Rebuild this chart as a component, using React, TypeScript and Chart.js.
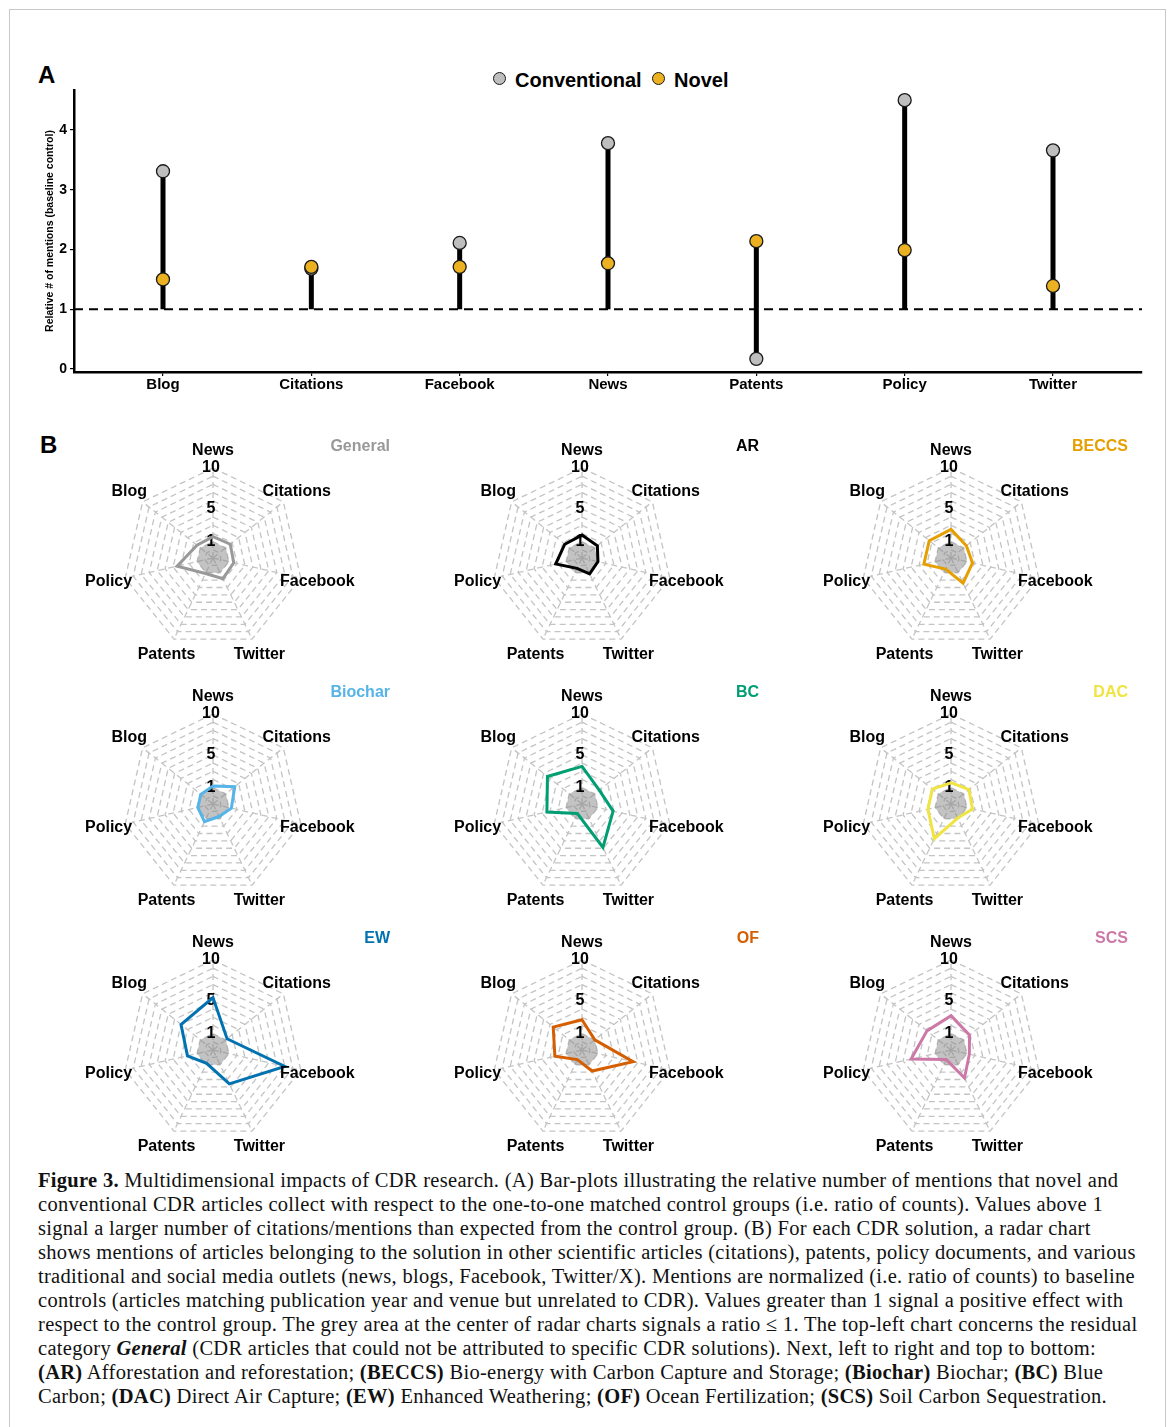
import React, { useEffect, useRef } from 'react';
import { Chart, registerables } from 'chart.js';

Chart.register(...registerables);

const FONT = '"Liberation Sans", Arial, Helvetica, sans-serif';

// ---------- Panel A data ----------
const channels = ['Blog', 'Citations', 'Facebook', 'News', 'Patents', 'Policy', 'Twitter'];
const conventional = [3.31, 1.68, 2.11, 3.78, 0.17, 4.5, 3.66];
const novel = [1.5, 1.71, 1.71, 1.77, 2.14, 1.99, 1.39];
const yTicks = [0, 1, 2, 3, 4];
const baselineValue = 1;

// ---------- Panel B data ----------
const radarAxes = ['News', 'Citations', 'Facebook', 'Twitter', 'Patents', 'Policy', 'Blog'];
const radarTickLabels = [1, 5, 10];
const centerRatio = [1, 1, 1, 1, 1, 1, 1];
const general = [1.6, 1.7, 1.6, 1.8, 1.1, 3.5, 1.5];
const ar = [1.8, 1.4, 1.0, 1.15, 0.4, 2.3, 1.7];
const beccs = [2.5, 1.4, 1.7, 2.4, 0.5, 2.4, 2.4];
const biochar = [1.2, 2.4, 1.3, 0.7, 1.4, 0.9, 0.9];
const bc = [3.6, 1.7, 2.9, 4.9, 0.3, 3.4, 4.4];
const dac = [1.6, 1.8, 1.7, 0.9, 3.7, 1.9, 1.9];
const ew = [5.4, 1.2, 8.0, 3.6, 0.8, 2.2, 4.0];
const of = [2.7, 1.0, 5.4, 1.85, 0.3, 2.4, 3.5];
const scs = [3.2, 1.9, 1.3, 2.8, 0.3, 4.0, 2.75];
const solutions = ['General', 'AR', 'BECCS', 'Biochar', 'BC', 'DAC', 'EW', 'OF', 'SCS'];
const solutionValues = [general, ar, beccs, biochar, bc, dac, ew, of, scs];
const solutionColors = ['#999999', '#000000', '#E69F00', '#56B4E9', '#009E73', '#F0E442', '#0072B2', '#D55E00', '#CC79A7'];

const X_MIN = -0.6;
const X_MAX = 6.6;

function LollipopChart() {
  const ref = useRef<HTMLCanvasElement>(null);
  useEffect(() => {
    const stems = channels.map((_, i) => {
      const vals = [baselineValue, conventional[i], novel[i]];
      return {
        label: 'stem' + i,
        data: [
          { x: i, y: Math.min(...vals) },
          { x: i, y: Math.max(...vals) },
        ],
        borderColor: '#000',
        borderWidth: 5,
        pointRadius: 0,
        borderCapStyle: 'butt',
        showLine: true,
      };
    });
    const chart = new Chart(ref.current as HTMLCanvasElement, {
      type: 'line',
      data: {
        datasets: [
          {
            label: 'Novel',
            data: novel.map((y, i) => ({ x: i, y })),
            showLine: false,
            pointRadius: 6.5,
            pointBackgroundColor: '#EBB120',
            pointBorderColor: '#1a1a1a',
            pointBorderWidth: 1.3,
          },
          {
            label: 'Conventional',
            data: conventional.map((y, i) => ({ x: i, y })),
            showLine: false,
            pointRadius: 6.5,
            pointBackgroundColor: '#BEBEBE',
            pointBorderColor: '#1a1a1a',
            pointBorderWidth: 1.3,
          },
          ...stems,
          {
            label: 'baseline',
            data: [
              { x: X_MIN, y: baselineValue },
              { x: X_MAX, y: baselineValue },
            ],
            borderColor: '#000',
            borderWidth: 2,
            borderDash: [9, 6],
            pointRadius: 0,
          },
        ] as any,
      },
      options: {
        animation: false,
        responsive: false,
        devicePixelRatio: 1,
        clip: false as any,
        layout: { padding: { left: 0, right: 18, top: 30, bottom: 0 } },
        plugins: { legend: { display: false }, tooltip: { enabled: false } },
        scales: {
          x: {
            type: 'linear',
            min: X_MIN,
            max: X_MAX,
            afterBuildTicks: (a: any) => {
              a.ticks = channels.map((_, i) => ({ value: i }));
            },
            afterFit: (a: any) => {
              a.height = 28;
            },
            ticks: {
              autoSkip: false,
              maxRotation: 0,
              padding: 0,
              color: '#000',
              font: { family: FONT, size: 15, weight: 'bold' },
              callback: (v: any) => channels[Math.round(v)] ?? '',
            },
            grid: { drawOnChartArea: false, drawTicks: true, tickLength: 4, color: '#000', lineWidth: 1.2 },
            border: { display: true, color: '#000', width: 2.5 },
          },
          y: {
            type: 'linear',
            min: -0.05,
            max: 4.67,
            afterBuildTicks: (a: any) => {
              a.ticks = yTicks.map((v) => ({ value: v }));
            },
            afterFit: (a: any) => {
              a.width = 54;
            },
            ticks: { padding: 3, color: '#000', font: { family: FONT, size: 14, weight: 'bold' } },
            grid: { drawOnChartArea: false, drawTicks: true, tickLength: 4, color: '#000', lineWidth: 1.2 },
            border: { display: true, color: '#000', width: 2.5 },
            title: {
              display: true,
              text: 'Relative # of mentions (baseline control)',
              color: '#000',
              font: { family: FONT, size: 10.5, weight: 'bold' },
              padding: { top: 24, bottom: 0 },
            },
          },
        },
      } as any,
    });
    return () => chart.destroy();
  }, []);
  return (
    <canvas
      ref={ref}
      width={1140}
      height={340}
      style={{ position: 'absolute', left: 20, top: 60, width: 1140, height: 340 }}
    />
  );
}

const RADAR_W = 369;
const RADAR_H = 240;
const colCenters = [213, 582, 951];
const rowCenters = [558, 804, 1050];

function RadarPanel({ idx }: { idx: number }) {
  const ref = useRef<HTMLCanvasElement>(null);
  useEffect(() => {
    const values = solutionValues[idx];
    const color = solutionColors[idx];
    const title = solutions[idx];
    const textPlugin = {
      id: 'radarText' + idx,
      beforeDatasetsDraw(chart: any) {
        const s = chart.scales.r;
        const ctx = chart.ctx;
        ctx.save();
        // grey area: ratio <= 1
        ctx.beginPath();
        centerRatio.forEach((v, i) => {
          const p = s.getPointPositionForValue(i, v);
          if (i === 0) ctx.moveTo(p.x, p.y);
          else ctx.lineTo(p.x, p.y);
        });
        ctx.closePath();
        ctx.fillStyle = 'rgba(135,135,135,0.5)';
        ctx.fill();
        ctx.font = `bold 16px ${FONT}`;
        ctx.fillStyle = '#000';
        ctx.textAlign = 'center';
        ctx.textBaseline = 'middle';
        radarTickLabels.forEach((v) => {
          const p = s.getPointPositionForValue(0, v);
          ctx.fillText(String(v), p.x - 2, p.y);
        });
        ctx.restore();
      },
      afterDraw(chart: any) {
        const s = chart.scales.r;
        const ctx = chart.ctx;
        ctx.save();
        ctx.font = `bold 16px ${FONT}`;
        ctx.fillStyle = '#000';
        ctx.textAlign = 'center';
        ctx.textBaseline = 'middle';
        radarAxes.forEach((lab, i) => {
          const p = s.getPointPosition(i, s.drawingArea * 1.19);
          ctx.fillText(lab, p.x, p.y);
        });
        ctx.textAlign = 'right';
        ctx.fillStyle = color;
        ctx.fillText(title, s.xCenter + 177, s.yCenter - 111);
        ctx.restore();
      },
    };
    const chart = new Chart(ref.current as HTMLCanvasElement, {
      type: 'radar',
      data: {
        labels: radarAxes,
        datasets: [
          {
            label: title,
            data: values,
            borderColor: color,
            borderWidth: 3,
            pointRadius: 0,
            fill: false,
            tension: 0,
            borderJoinStyle: 'miter',
          },
        ],
      },
      options: {
        animation: false,
        responsive: false,
        devicePixelRatio: 1,
        layout: { padding: { left: 95, right: 94, top: 35, bottom: 25 } },
        plugins: { legend: { display: false }, tooltip: { enabled: false } },
        scales: {
          r: {
            min: -1,
            max: 10,
            ticks: { display: false, stepSize: 1 },
            grid: { color: '#c4c4c4', lineWidth: 1.3 },
            border: { dash: [6, 4] },
            angleLines: { display: true, color: '#c4c4c4', lineWidth: 1.3, borderDash: [6, 4] },
            pointLabels: { display: false },
          },
        },
      } as any,
      plugins: [textPlugin],
    });
    return () => chart.destroy();
  }, [idx]);
  const cx = colCenters[idx % 3];
  const cy = rowCenters[Math.floor(idx / 3)];
  return (
    <canvas
      ref={ref}
      width={RADAR_W}
      height={RADAR_H}
      style={{ position: 'absolute', left: cx - 185, top: cy - 125, width: RADAR_W, height: RADAR_H }}
    />
  );
}

const captionStyle: React.CSSProperties = {
  position: 'absolute',
  left: 38,
  top: 1168,
  fontFamily: '"Liberation Serif", "Times New Roman", serif',
  fontSize: 20.5,
  letterSpacing: '0.3px',
  lineHeight: '24px',
  color: '#111',
  whiteSpace: 'nowrap',
};

export default function App() {
  return (
    <div style={{ position: 'absolute', left: 0, top: 0, width: 1170, height: 1427, background: '#fff', overflow: 'hidden' }}>
      <div style={{ position: 'absolute', left: 9, top: 9, width: 1155, height: 1440, border: '1px solid #c8c8c8' }} />
      <div style={{ position: 'absolute', left: 38, top: 61, fontFamily: FONT, fontWeight: 'bold', fontSize: 24, lineHeight: '28px' }}>A</div>
      <div style={{ position: 'absolute', left: 40, top: 431, fontFamily: FONT, fontWeight: 'bold', fontSize: 24, lineHeight: '28px' }}>B</div>
      <div style={{ position: 'absolute', left: 493, top: 72, width: 13, height: 13, borderRadius: '50%', background: '#BEBEBE', border: '1.3px solid #1a1a1a', boxSizing: 'border-box' }} />
      <div style={{ position: 'absolute', left: 515, top: 68, fontFamily: FONT, fontWeight: 'bold', fontSize: 20, lineHeight: '24px' }}>Conventional</div>
      <div style={{ position: 'absolute', left: 652, top: 72, width: 13, height: 13, borderRadius: '50%', background: '#EBB120', border: '1.3px solid #1a1a1a', boxSizing: 'border-box' }} />
      <div style={{ position: 'absolute', left: 674, top: 68, fontFamily: FONT, fontWeight: 'bold', fontSize: 20, lineHeight: '24px' }}>Novel</div>
      <LollipopChart />
      {solutions.map((_, i) => (
        <RadarPanel key={i} idx={i} />
      ))}
      <div style={captionStyle}>
        <div><b>Figure 3.</b> Multidimensional impacts of CDR research. (A) Bar-plots illustrating the relative number of mentions that novel and</div>
        <div>conventional CDR articles collect with respect to the one-to-one matched control groups (i.e. ratio of counts). Values above 1</div>
        <div>signal a larger number of citations/mentions than expected from the control group. (B) For each CDR solution, a radar chart</div>
        <div>shows mentions of articles belonging to the solution in other scientific articles (citations), patents, policy documents, and various</div>
        <div>traditional and social media outlets (news, blogs, Facebook, Twitter/X). Mentions are normalized (i.e. ratio of counts) to baseline</div>
        <div>controls (articles matching publication year and venue but unrelated to CDR). Values greater than 1 signal a positive effect with</div>
        <div>respect to the control group. The grey area at the center of radar charts signals a ratio ≤ 1. The top-left chart concerns the residual</div>
        <div>category <b><i>General</i></b> (CDR articles that could not be attributed to specific CDR solutions). Next, left to right and top to bottom:</div>
        <div><b>(AR)</b> Afforestation and reforestation; <b>(BECCS)</b> Bio-energy with Carbon Capture and Storage; <b>(Biochar)</b> Biochar; <b>(BC)</b> Blue</div>
        <div>Carbon; <b>(DAC)</b> Direct Air Capture; <b>(EW)</b> Enhanced Weathering; <b>(OF)</b> Ocean Fertilization; <b>(SCS)</b> Soil Carbon Sequestration.</div>
      </div>
    </div>
  );
}
